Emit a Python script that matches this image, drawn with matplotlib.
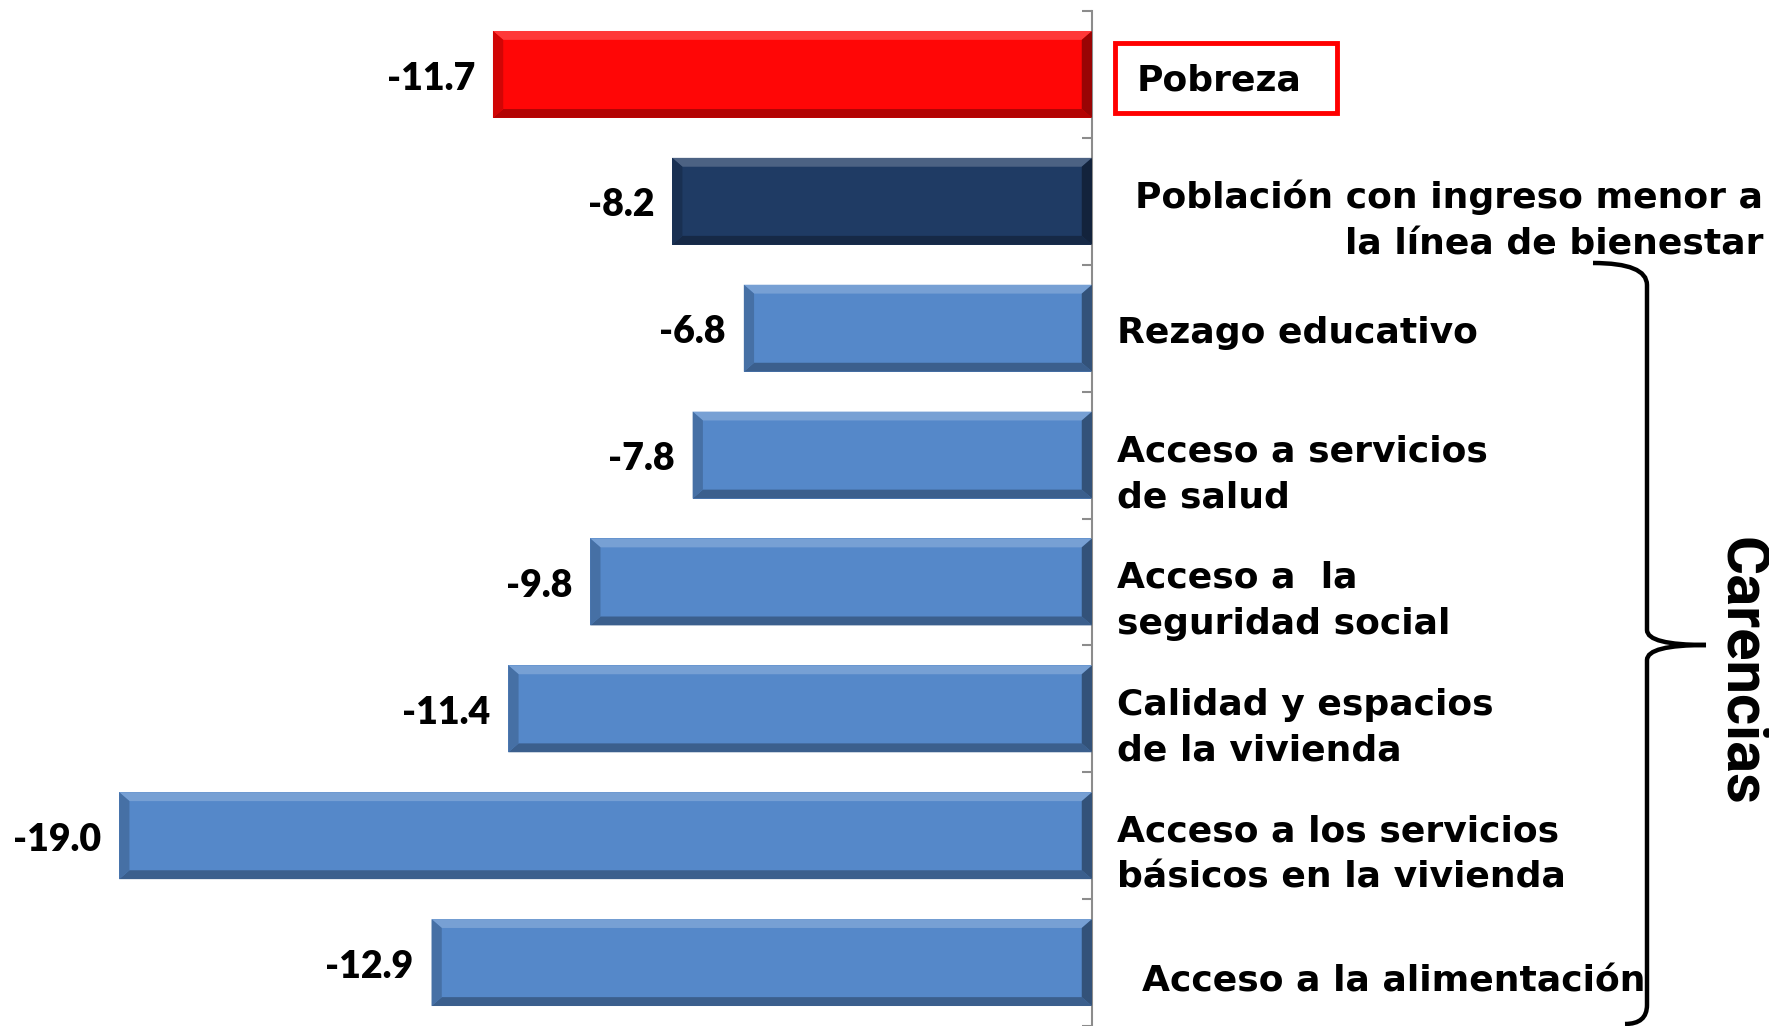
import numpy as np
import matplotlib
matplotlib.use("Agg")
import matplotlib.pyplot as plt
from matplotlib.colors import to_rgb
from matplotlib.path import Path
from matplotlib.patches import PathPatch, Rectangle

# Data
categorias = ["Pobreza",
              "Población con ingreso menor a\nla línea de bienestar",
              "Rezago educativo",
              "Acceso a servicios\nde salud",
              "Acceso a  la\nseguridad social",
              "Calidad y espacios\nde la vivienda",
              "Acceso a los servicios\nbásicos en la vivienda",
              "Acceso a la alimentación"]
valores = [-11.7, -8.2, -6.8, -7.8, -9.8, -11.4, -19.0, -12.9]
colores = ["#FF0606", "#1F3B64", "#5588C9", "#5588C9", "#5588C9",
           "#5588C9", "#5588C9", "#5588C9"]

W, H = 1769, 1026
fig = plt.figure(figsize=(W / 100, H / 100), dpi=100)
ax = fig.add_axes([0, 0, 1092 / W, 1 - 11 / H])

bar_h = 0.685
y = np.arange(len(valores))


def mix(c, other, t):
    c = np.array(to_rgb(c))
    o = np.array(to_rgb(other))
    return tuple(c * (1 - t) + o * t)


# Bars with a bevel look
for yi, v, c in zip(y, valores, colores):
    ax.barh(yi, v, height=bar_h, color=c, edgecolor="none", zorder=2)
    x0, x1 = v, 0
    y0, y1 = yi - bar_h / 2, yi + bar_h / 2
    bx, by = 0.2, 0.07
    ax.fill([x0, x1, x1 - bx, x0 + bx], [y0, y0, y0 + by, y0 + by],
            color=mix(c, "white", 0.2), lw=0, zorder=3)
    ax.fill([x0, x1, x1 - bx, x0 + bx], [y1, y1, y1 - by, y1 - by],
            color=mix(c, "black", 0.3), lw=0, zorder=3)
    ax.fill([x0, x0 + bx, x0 + bx, x0], [y0, y0 + by, y1 - by, y1],
            color=mix(c, "black", 0.18), lw=0, zorder=3)
    ax.fill([x1, x1 - bx, x1 - bx, x1], [y0, y0 + by, y1 - by, y1],
            color=mix(c, "black", 0.4), lw=0, zorder=3)
    ax.annotate(f"{v:.1f}", xy=(v, yi), xytext=(-13, -3),
                textcoords="offset points", ha="right", va="center",
                fontsize=27, fontweight="heavy", family="Lato")

ax.set_xlim(-1092 / 51.2, 0)
ax.set_ylim(7.5, -0.5)

for s in ["left", "top", "bottom"]:
    ax.spines[s].set_visible(False)
ax.spines["right"].set_color("#8C8C8C")
ax.spines["right"].set_linewidth(1.5)
ax.set_xticks([])
ax.yaxis.tick_right()
ax.set_yticks(np.arange(-0.5, 8.0, 1.0))
ax.set_yticklabels([])
ax.tick_params(axis="y", direction="in", length=7, width=1.5, color="#8C8C8C")

# Category labels
tr = ax.get_yaxis_transform()
lab_font = dict(fontsize=26, fontweight="bold", family="DejaVu Sans",
                va="center", linespacing=1.45)
ax.text(1.041, 0.05, categorias[0], transform=tr, ha="left", **lab_font)
ax.text(1.6147, 1.15, categorias[1], transform=tr, ha="right",
        multialignment="right", **lab_font)
ax.text(1.0229, 2.04, categorias[2], transform=tr, ha="left", **lab_font)
for i in range(3, 7):
    ax.text(1.0229, i + 0.15, categorias[i], transform=tr, ha="left", **lab_font)
ax.text(1.0456, 7.15, categorias[7], transform=tr, ha="left", **lab_font)

# Red box around Pobreza
fig.add_artist(Rectangle((1115 / W, 1 - 113 / H), 222 / W, 70 / H,
                         transform=fig.transFigure, fill=False,
                         edgecolor="#FF0000", lw=3.5))

# Brace
pts = [(1593, 263), (1647, 263), (1647, 285), (1647, 285),
       (1647, 630), (1647, 630),
       (1647, 645), (1706, 645), (1706, 645),
       (1647, 645), (1647, 660), (1647, 660),
       (1647, 1005), (1647, 1005),
       (1647, 1024), (1625, 1024)]
codes = [Path.MOVETO, Path.CURVE3, Path.CURVE3, Path.LINETO,
         Path.LINETO, Path.LINETO,
         Path.CURVE3, Path.CURVE3, Path.LINETO,
         Path.CURVE3, Path.CURVE3, Path.LINETO,
         Path.LINETO, Path.LINETO,
         Path.CURVE3, Path.CURVE3]
verts = [(px / W, 1 - py / H) for px, py in pts]
fig.add_artist(PathPatch(Path(verts, codes), transform=fig.transFigure,
                         fill=False, lw=3.2, edgecolor="black"))

fig.text(1741 / W, 1 - 671 / H, "Carencias", rotation=-90, ha="center",
         va="center", fontsize=43, fontweight="bold", family="Roboto")

fig.savefig("out.png", dpi=100)
